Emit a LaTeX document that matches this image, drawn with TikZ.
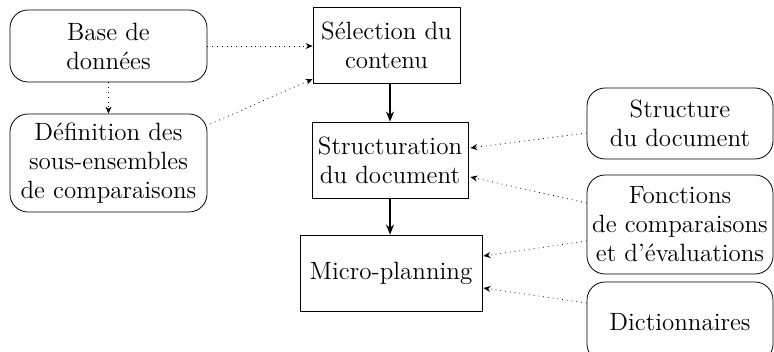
\documentclass[tikz,border=0pt]{standalone}
\usetikzlibrary{arrows, arrows.meta}
\usetikzlibrary{calc}

\begin{document}
\begin{tikzpicture}[x=0.5pt, y=0.5pt,
    every node/.style={font=\fontsize{12.5pt}{14.5pt}\selectfont, align=center, inner sep=0pt},
    etape/.style={draw, rectangle, minimum height=38pt},
    ressource/.style={draw, rectangle, rounded corners=9pt},
    flux/.style={-{Stealth[length=5pt, width=4pt]}, semithick},
    aide/.style={-{Stealth[length=3.5pt, width=3pt]}, dotted}]
      \useasboundingbox (0,0) rectangle (774,352);

      \node[ressource, minimum width=98.5pt, minimum height=36pt] (base) at (108.5,306) {Base de\\données};
      \node[ressource, minimum width=98.5pt, minimum height=49pt] (def) at (108.5,189) {Définition des\\sous-ensembles\\de comparaisons};
      \node[etape, minimum width=73.5pt] (sel) at (386.5,307) {Sélection du\\contenu};
      \node[etape, minimum width=78pt] (struct) at (390,192) {Structuration\\du document};
      \node[etape, minimum width=91pt] (micro) at (391,79) {Micro-planning};
      \node[ressource, minimum width=93pt, minimum height=35.5pt] (plan) at (680,228.5) {Structure\\du document};
      \node[ressource, minimum width=93pt, minimum height=49.5pt] (fonc) at (680,127.5) {Fonctions\\de comparaisons\\et d’évaluations};
      \node[ressource, minimum width=93pt, minimum height=40pt] (dico) at (680,30) {Dictionnaires};

      % chaine principale
      \draw[flux] (struct.north |- sel.south) -- (struct.north);
      \draw[flux] (struct.south) -- (struct.south |- micro.north);

      % ressources
      \draw[aide] (base.east) -- (sel.west |- base.east);
      \draw[aide] (base) -- (def);
      \draw[aide] ($(def.east)+(3,39)$) -- ($(sel.west)+(0,-34)$);
      \draw[aide] ($(plan.west)+(0,-9.5)$) -- ($(struct.east)+(2,12)$);
      \draw[aide] ($(fonc.west)+(0,21.5)$) -- ($(struct.east)+(2,-17)$);
      \draw[aide] ($(fonc.west)+(0,-16.5)$) -- ($(micro.east)+(1,17)$);
      \draw[aide] ($(dico.west)+(0,19)$) -- ($(micro.east)+(1,-15)$);
    \end{tikzpicture}
\end{document}
